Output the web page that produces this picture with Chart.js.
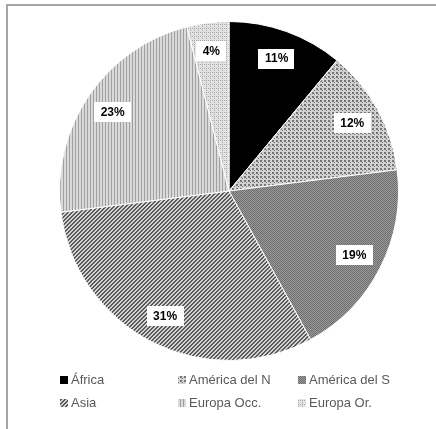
<!DOCTYPE html>
<html>
<head>
<meta charset="utf-8">
<script src="https://cdn.jsdelivr.net/npm/chart.js@4.4.0/dist/chart.umd.min.js"></script>
<style>
  body { margin: 0; background: #fff; }
  #frame {
    position: absolute; left: 6px; top: 4px; width: 430px; height: 425px;
    border-top: 2px solid #a6a6a6; border-left: 2px solid #a6a6a6;
  }
  #wrap { position: absolute; left: 0; top: 0; width: 436px; height: 429px; }
</style>
</head>
<body>
<div id="frame"></div>
<div id="wrap"><canvas id="pieChart"></canvas></div>
<script>
const regions = ["África", "América del N", "América del S", "Asia", "Europa Occ.", "Europa Or."];
const shares = [11, 12, 19, 31, 23, 4];

// small tiles used as fills, roughly like the office hatch patterns
function makePattern(size, draw) {
  const c = document.createElement("canvas");
  c.width = size;
  c.height = size;
  const g = c.getContext("2d");
  draw(g);
  return g.createPattern(c, "repeat");
}

const fills = [
  "#000000",
  makePattern(4, g => { // dotted, medium
    g.fillStyle = "#d2d2d2"; g.fillRect(0, 0, 4, 4);
    g.fillStyle = "#767676"; g.fillRect(0, 0, 2, 2); g.fillRect(2, 2, 1, 1);
  }),
  makePattern(2, g => { // dense dark dots
    g.fillStyle = "#9a9a9a"; g.fillRect(0, 0, 2, 2);
    g.fillStyle = "#6e6e6e"; g.fillRect(0, 0, 1, 1); g.fillRect(1, 1, 1, 1);
  }),
  makePattern(4, g => { // wide upward diagonal
    g.fillStyle = "#d4d4d4"; g.fillRect(0, 0, 4, 4);
    g.fillStyle = "#5a5a5a";
    for (let i = 0; i < 4; i++) { g.fillRect(i, 3 - i, 1, 1); g.fillRect((i + 1) % 4, 3 - i, 1, 1); }
  }),
  makePattern(3, g => { // light vertical
    g.fillStyle = "#dadada"; g.fillRect(0, 0, 3, 3);
    g.fillStyle = "#a0a0a0"; g.fillRect(0, 0, 1, 3);
  }),
  makePattern(4, g => { // light dots
    g.fillStyle = "#e2e2e2"; g.fillRect(0, 0, 4, 4);
    g.fillStyle = "#a6a6a6"; g.fillRect(0, 0, 1, 1); g.fillRect(2, 2, 1, 1); g.fillRect(2, 0, 1, 1);
  })
];

const pctLabels = {
  id: "pctLabels",
  afterDatasetsDraw(chart) {
    const ctx = chart.ctx;
    const meta = chart.getDatasetMeta(0);
    ctx.save();
    ctx.font = 'bold 12px "Liberation Sans", Arial, sans-serif';
    ctx.textAlign = "center";
    ctx.textBaseline = "middle";
    meta.data.forEach((arc, i) => {
      const mid = (arc.startAngle + arc.endAngle) / 2;
      const r = arc.outerRadius * 0.83;
      const x = arc.x + Math.cos(mid) * r;
      const y = arc.y + Math.sin(mid) * r;
      const txt = shares[i] + "%";
      const w = ctx.measureText(txt).width + 13;
      const h = 20;
      ctx.fillStyle = "#ffffff";
      ctx.fillRect(Math.round(x - w / 2), Math.round(y - h / 2), Math.round(w), h);
      ctx.fillStyle = "#000000";
      ctx.fillText(txt, x, y + 0.5);
    });
    ctx.restore();
  }
};

// legend laid out in fixed columns, as in the original
const gridLegend = {
  id: "gridLegend",
  afterDraw(chart) {
    const ctx = chart.ctx;
    const colX = [60, 178, 298];
    const rowY = [380, 403];
    ctx.save();
    ctx.font = '13px "Liberation Sans", Arial, sans-serif';
    ctx.textBaseline = "middle";
    regions.forEach((name, i) => {
      const x = colX[i % 3];
      const y = rowY[Math.floor(i / 3)];
      ctx.fillStyle = fills[i];
      ctx.fillRect(x, y - 4, 8, 8);
      ctx.fillStyle = "#595959";
      ctx.fillText(name, x + 11, y);
    });
    ctx.restore();
  }
};

new Chart(document.getElementById("pieChart"), {
  type: "pie",
  data: {
    labels: regions,
    datasets: [{
      data: shares,
      backgroundColor: fills,
      borderColor: "#ffffff",
      borderWidth: 1
    }]
  },
  options: {
    responsive: true,
    maintainAspectRatio: false,
    animation: false,
    layout: { padding: { left: 59, right: 37, top: 21, bottom: 68 } },
    plugins: {
      legend: { display: false },
      tooltip: { enabled: false }
    }
  },
  plugins: [pctLabels, gridLegend]
});
</script>
</body>
</html>
